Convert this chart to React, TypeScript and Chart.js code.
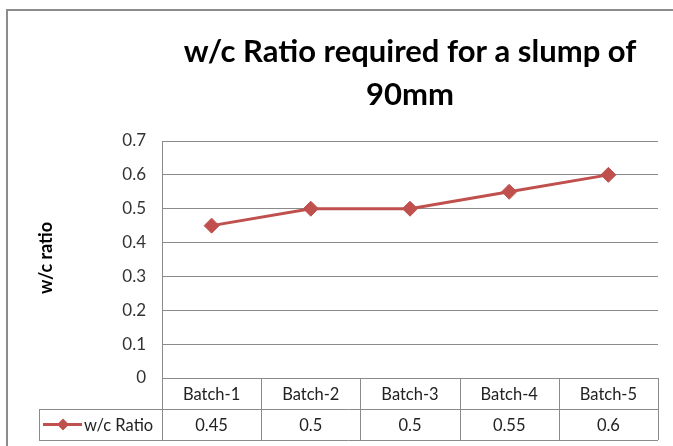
import React, { useEffect, useRef } from "react";
import { Chart, registerables } from "chart.js";

Chart.register(...registerables);

const categories = ["Batch-1", "Batch-2", "Batch-3", "Batch-4", "Batch-5"];
const wcRatio = [0.45, 0.5, 0.5, 0.55, 0.6];
const valueLabels = ["0.45", "0.5", "0.5", "0.55", "0.6"];
const seriesName = "w/c Ratio";
const titleLines = ["w/c Ratio required for a slump of", "90mm"];
const yTitle = "w/c ratio";

const FONT = "Lato, 'Open Sans', sans-serif";
const RED = "#C0504D";
const GRID = "#8a8a8a";

const decorPlugin = {
  id: "decor",
  afterDraw(chart: any) {
    const { ctx, chartArea } = chart;
    const x = chart.scales.x;
    const n = categories.length;
    const left = chartArea.left;
    const right = chartArea.right;
    const row0 = chartArea.bottom;
    const row1 = row0 + 31;
    const row2 = row1 + 31;
    const centers = categories.map((_, i) => x.getPixelForValue(i));
    const bounds: number[] = [left];
    for (let i = 0; i < n - 1; i++) bounds.push((centers[i] + centers[i + 1]) / 2);
    bounds.push(right);

    ctx.save();
    // outer chart border (left and top visible)
    ctx.strokeStyle = "#8c8c8c";
    ctx.lineWidth = 2;
    ctx.beginPath();
    ctx.moveTo(7, 460);
    ctx.lineTo(7, 10);
    ctx.lineTo(700, 10);
    ctx.stroke();

    // table lines
    ctx.strokeStyle = GRID;
    ctx.lineWidth = 1;
    ctx.beginPath();
    ctx.moveTo(39, row1 + 0.5);
    ctx.lineTo(right, row1 + 0.5);
    ctx.moveTo(39, row2 + 0.5);
    ctx.lineTo(right, row2 + 0.5);
    ctx.moveTo(39.5, row1);
    ctx.lineTo(39.5, row2);
    bounds.forEach((b) => {
      const bx = Math.round(b) + 0.5;
      ctx.moveTo(bx, row0);
      ctx.lineTo(bx, row2);
    });
    ctx.stroke();

    // table text
    ctx.fillStyle = "#222";
    ctx.font = `16.5px ${FONT}`;
    ctx.textAlign = "center";
    ctx.textBaseline = "middle";
    categories.forEach((c, i) => ctx.fillText(c, centers[i], (row0 + row1) / 2 + 1));
    valueLabels.forEach((v, i) => ctx.fillText(v, centers[i], (row1 + row2) / 2 + 1));

    // legend key
    const ly = (row1 + row2) / 2;
    ctx.strokeStyle = RED;
    ctx.lineWidth = 3;
    ctx.beginPath();
    ctx.moveTo(43, ly);
    ctx.lineTo(82, ly);
    ctx.stroke();
    ctx.fillStyle = RED;
    ctx.beginPath();
    ctx.moveTo(63, ly - 6);
    ctx.lineTo(69, ly);
    ctx.lineTo(63, ly + 6);
    ctx.lineTo(57, ly);
    ctx.closePath();
    ctx.fill();
    ctx.fillStyle = "#222";
    ctx.textAlign = "left";
    ctx.font = `16.5px ${FONT}`;
    ctx.fillText(seriesName, 84, ly + 1);

    // title
    ctx.textAlign = "center";
    ctx.font = `bold 31px ${FONT}`;
    ctx.fillStyle = "#000";
    const tx = (left + right) / 2;
    ctx.fillText(titleLines[0], tx, 52);
    ctx.fillText(titleLines[1], tx, 95);

    // y axis title
    ctx.translate(46, 258);
    ctx.rotate(-Math.PI / 2);
    ctx.font = `bold 18px ${FONT}`;
    ctx.fillText(yTitle, 0, 0);
    ctx.restore();
  },
};

export default function App() {
  const ref = useRef<HTMLCanvasElement>(null);
  useEffect(() => {
    if (!ref.current) return;
    const chart = new Chart(ref.current, {
      type: "line",
      data: {
        labels: categories,
        datasets: [
          {
            label: seriesName,
            data: wcRatio,
            borderColor: RED,
            backgroundColor: RED,
            borderWidth: 3,
            pointStyle: "rectRot",
            pointRadius: 7.5,
            pointBorderWidth: 1,
            pointBackgroundColor: RED,
            pointBorderColor: RED,
            tension: 0,
          },
        ],
      },
      options: {
        responsive: false,
        animation: false,
        layout: { padding: { left: 0, right: 15, top: 141, bottom: 68 } },
        plugins: { legend: { display: false }, title: { display: false }, tooltip: { enabled: false } },
        scales: {
          x: { type: "category", offset: true, display: false },
          y: {
            min: 0,
            max: 0.7,
            ticks: {
              stepSize: 0.1,
              padding: 16,
              color: "#333",
              font: { family: FONT, size: 17 },
              callback: (v: any) => String(Math.round(Number(v) * 10) / 10),
            },
            grid: { color: GRID, drawTicks: false, lineWidth: 1 },
            border: { color: GRID, width: 1 },
            afterFit: (s: any) => {
              s.width = 162;
            },
          },
        },
      },
      plugins: [decorPlugin],
    });
    return () => chart.destroy();
  }, []);
  return (
    <div style={{ position: "fixed", left: 0, top: 0, width: 673, height: 446, background: "#fff" }}>
      <canvas ref={ref} width={673} height={446} />
    </div>
  );
}
